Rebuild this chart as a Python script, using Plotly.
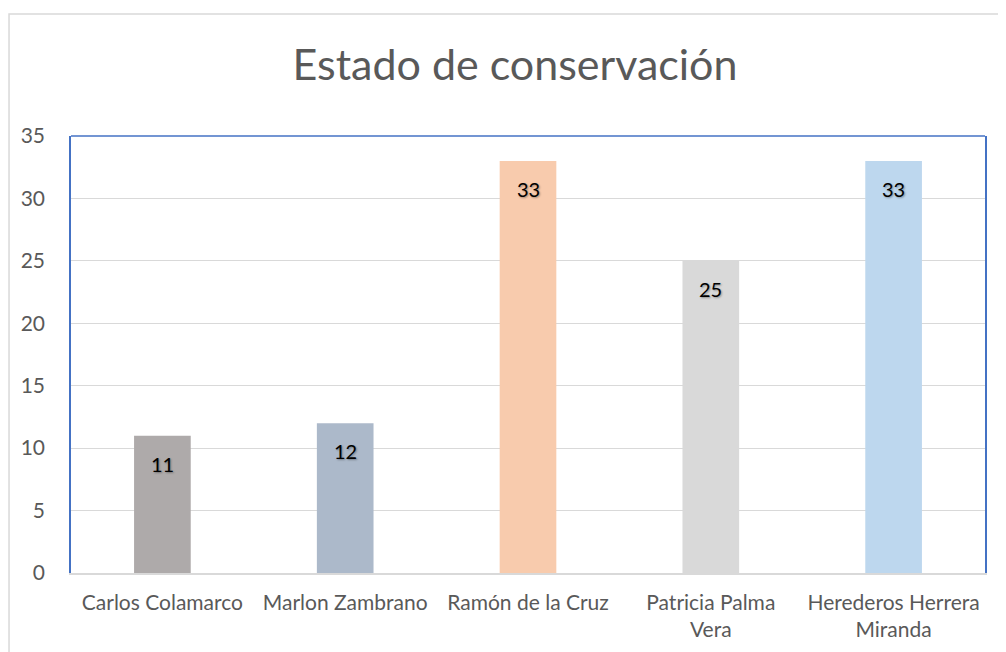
import plotly.graph_objects as go

# datos
propietarios = ["Carlos Colamarco", "Marlon Zambrano", "Ramón de la Cruz",
                "Patricia Palma<br>Vera", "Herederos Herrera<br>Miranda"]
cantidades = [11, 12, 33, 25, 33]
colores = ["#AEAAAA", "#ACB9CA", "#F8CBAD", "#D9D9D9", "#BDD7EE"]
ticks_y = [0, 5, 10, 15, 20, 25, 30, 35]

FONT = "Lato, Carlito, sans-serif"
GRIS_TEXTO = "#595959"

fig = go.Figure()
fig.add_trace(go.Bar(
    x=propietarios,
    y=cantidades,
    marker_color=colores,
    marker_line_width=0,
    width=0.31,
    showlegend=False,
))

# etiquetas de datos dentro de la barra
for p, v in zip(propietarios, cantidades):
    fig.add_annotation(
        x=p, y=v, text=str(v), showarrow=False, yshift=-28,
        font=dict(family=FONT, size=20, color="#000000",
                  shadow="1px 1px 2px rgba(0,0,0,0.35)"),
    )

# borde exterior del gráfico
fig.add_shape(type="rect", xref="paper", yref="paper",
              x0=-0.0678, x1=1.1, y0=-0.3, y1=1.279,
              line=dict(color="#D9D9D9", width=1.5), layer="below")
# línea superior azul del área de trazado
fig.add_shape(type="line", xref="paper", yref="paper",
              x0=0, x1=1, y0=1, y1=1,
              line=dict(color="#4472C4", width=1.5))

fig.update_layout(
    width=1006, height=652,
    paper_bgcolor="white", plot_bgcolor="white",
    margin=dict(l=63, r=29, t=128, b=87),
    font=dict(family=FONT, color=GRIS_TEXTO, size=21),
    title=dict(text="Estado de conservación", x=0.504, xanchor="center",
               y=0.912, yanchor="middle",
               font=dict(family=FONT, size=43, color=GRIS_TEXTO)),
    xaxis=dict(showline=True, linecolor="#D9D9D9", linewidth=1.5,
               tickfont=dict(size=21, color=GRIS_TEXTO), ticks="",
               ticklabelstandoff=10),
    yaxis=dict(range=[0, 35], tickvals=ticks_y, showgrid=True,
               gridcolor="#D9D9D9", gridwidth=1, zeroline=False,
               showline=True, linecolor="#4472C4", linewidth=1.5, mirror=True,
               ticks="", ticklabelstandoff=20,
               tickfont=dict(size=21, color=GRIS_TEXTO)),
    bargap=0.69,
)

fig.write_html("out.html")
